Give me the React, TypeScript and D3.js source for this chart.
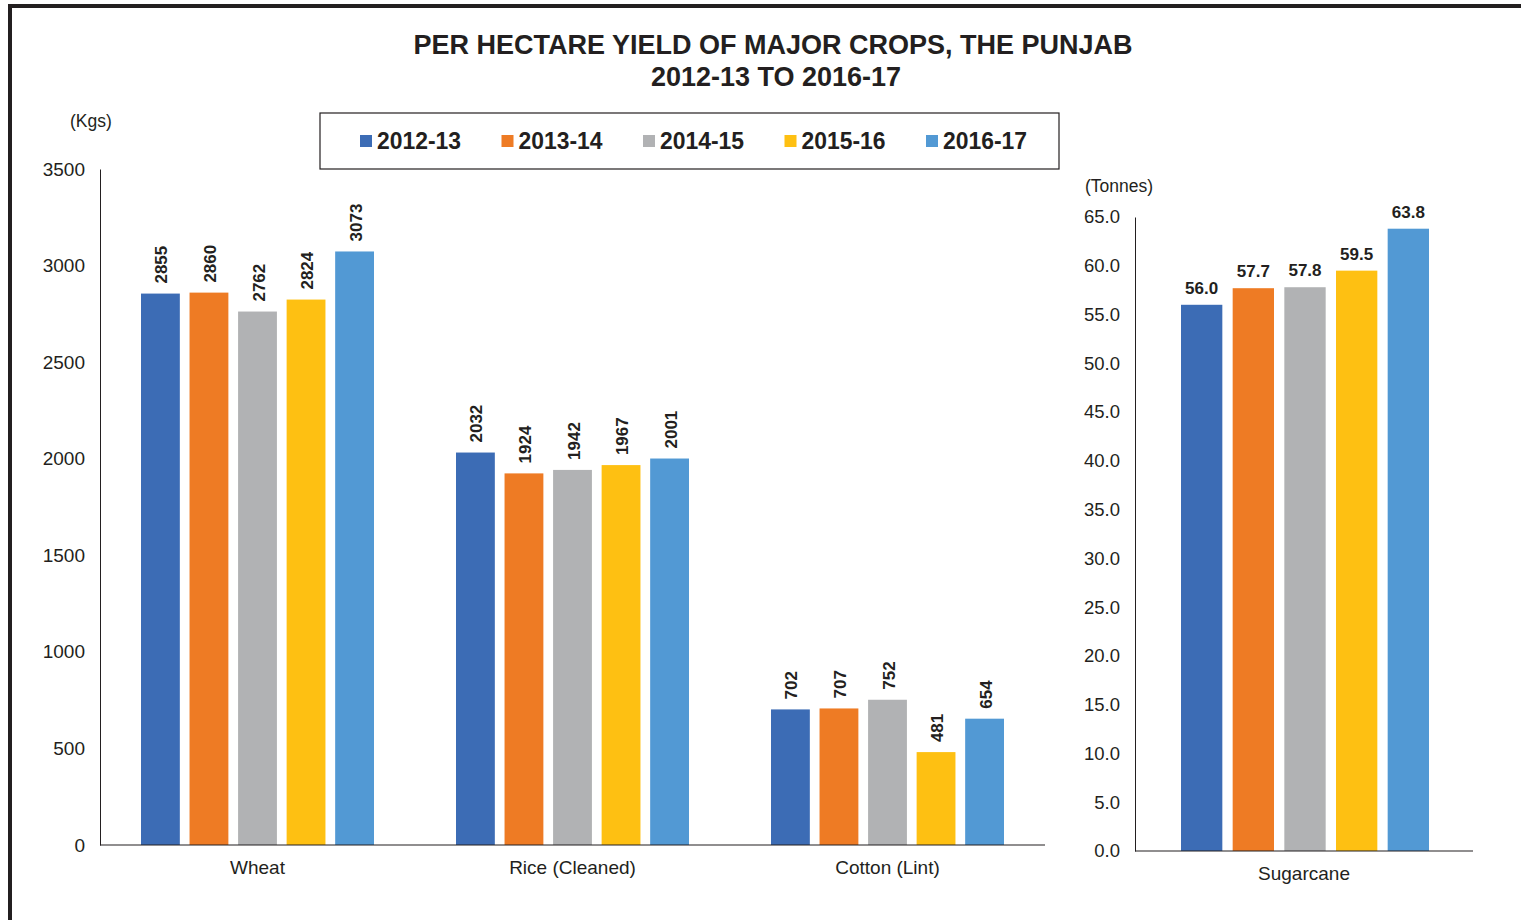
import { useEffect, useRef } from "react";
import * as d3 from "d3";

const years = ["2012-13", "2013-14", "2014-15", "2015-16", "2016-17"];
const colors = ["#3C6CB5", "#EE7B24", "#B1B2B4", "#FEC012", "#5299D4"];

const crops = ["Wheat", "Rice (Cleaned)", "Cotton (Lint)"];
const wheat = [2855, 2860, 2762, 2824, 3073];
const rice = [2032, 1924, 1942, 1967, 2001];
const cotton = [702, 707, 752, 481, 654];
const kgTicks = [0, 500, 1000, 1500, 2000, 2500, 3000, 3500];

const sugarCrops = ["Sugarcane"];
const sugarcane = [56.0, 57.7, 57.8, 59.5, 63.8];
const tonneTicks = [0, 5, 10, 15, 20, 25, 30, 35, 40, 45, 50, 55, 60, 65];

const FONT = "'Liberation Sans', Arial, sans-serif";

export default function App() {
  const svgRef = useRef<SVGSVGElement>(null);

  useEffect(() => {
    const width = 1521;
    const height = 920;
    const svg = d3.select(svgRef.current);
    svg.selectAll("*").remove();
    svg.attr("width", width).attr("height", height).style("font-family", FONT);

    svg.append("rect").attr("width", width).attr("height", height).attr("fill", "#fff");

    // frame (right and bottom run off the page)
    svg.append("path")
      .attr("d", `M10,${height + 10} L10,6 L${width + 10},6`)
      .attr("fill", "none")
      .attr("stroke", "#231F20")
      .attr("stroke-width", 4);

    // title
    const title = svg.append("text")
      .attr("text-anchor", "middle")
      .attr("font-weight", "bold")
      .attr("font-size", 27)
      .attr("fill", "#231F20");
    title.append("tspan").attr("x", 773).attr("y", 54).text("PER HECTARE YIELD OF MAJOR CROPS, THE PUNJAB");
    title.append("tspan").attr("x", 776).attr("y", 86).text("2012-13 TO 2016-17");

    // legend
    svg.append("rect")
      .attr("x", 320).attr("y", 113).attr("width", 739).attr("height", 56)
      .attr("fill", "#fff").attr("stroke", "#231F20").attr("stroke-width", 1.2);
    const legendX = d3.scalePoint<string>().domain(years).range([360, 926]);
    const lg = svg.append("g").selectAll("g").data(years).enter().append("g")
      .attr("transform", (d) => `translate(${legendX(d)},141)`);
    lg.append("rect").attr("x", 0).attr("y", -6).attr("width", 12).attr("height", 12)
      .attr("fill", (_d, i) => colors[i]);
    lg.append("text").attr("x", 17).attr("y", 8)
      .attr("font-size", 23).attr("font-weight", "bold").attr("fill", "#231F20")
      .attr("textLength", 84).attr("lengthAdjust", "spacingAndGlyphs")
      .text((d) => d);

    // ---- left panel (Kgs)
    const left = { x0: 100, x1: 1045, y0: 845, y1: 169 };
    const xL = d3.scaleBand<string>().domain(crops).range([left.x0, left.x1]);
    const xInner = d3.scaleBand<string>().domain(years).range([41, xL.bandwidth() - 41]).paddingInner(0.2);
    const yL = d3.scaleLinear().domain([0, 3500]).range([left.y0, left.y1]);
    const kgSeries = [wheat, rice, cotton];

    const gL = svg.append("g");
    crops.forEach((c, ci) => {
      const g = gL.append("g").attr("transform", `translate(${xL(c)},0)`);
      years.forEach((yr, yi) => {
        const v = kgSeries[ci][yi];
        const bx = xInner(yr)!;
        g.append("rect")
          .attr("x", bx).attr("y", yL(v))
          .attr("width", xInner.bandwidth()).attr("height", yL(0) - yL(v))
          .attr("fill", colors[yi]);
        g.append("text")
          .attr("transform", `translate(${bx + xInner.bandwidth() / 2 + 7},${yL(v) - 10}) rotate(-90)`)
          .attr("font-size", 17).attr("font-weight", "bold").attr("fill", "#231F20")
          .text(v);
      });
      gL.append("text")
        .attr("x", xL(c)! + xL.bandwidth() / 2).attr("y", 874)
        .attr("text-anchor", "middle").attr("font-size", 19).attr("fill", "#231F20")
        .text(c);
    });

    const axL = svg.append("g").attr("transform", `translate(${left.x0},0)`)
      .call(d3.axisLeft(yL).tickValues(kgTicks).tickSize(0).tickPadding(15).tickFormat(d3.format("d")));
    axL.select(".domain").attr("stroke", "#231F20");
    axL.selectAll("text").attr("font-size", 19).attr("font-family", FONT).attr("fill", "#231F20");
    svg.append("line").attr("x1", left.x0).attr("x2", left.x1).attr("y1", left.y0).attr("y2", left.y0)
      .attr("stroke", "#231F20").attr("stroke-width", 1.2);
    svg.append("text").attr("x", 70).attr("y", 127).attr("font-size", 17.5).attr("fill", "#231F20").text("(Kgs)");

    // ---- right panel (Tonnes)
    const right = { x0: 1135, x1: 1473, y0: 851, y1: 217 };
    const xR = d3.scaleBand<string>().domain(sugarCrops).range([right.x0, right.x1]);
    const xInnerR = d3.scaleBand<string>().domain(years).range([46, xR.bandwidth() - 44]).paddingInner(0.2);
    const yR = d3.scaleLinear().domain([0, 65]).range([right.y0, right.y1]);

    const gR = svg.append("g").attr("transform", `translate(${xR("Sugarcane")},0)`);
    years.forEach((yr, yi) => {
      const v = sugarcane[yi];
      const bx = xInnerR(yr)!;
      gR.append("rect")
        .attr("x", bx).attr("y", yR(v))
        .attr("width", xInnerR.bandwidth()).attr("height", yR(0) - yR(v))
        .attr("fill", colors[yi]);
      gR.append("text")
        .attr("x", bx + xInnerR.bandwidth() / 2).attr("y", yR(v) - 11)
        .attr("text-anchor", "middle")
        .attr("font-size", 17).attr("font-weight", "bold").attr("fill", "#231F20")
        .text(v.toFixed(1));
    });
    svg.append("text")
      .attr("x", xR("Sugarcane")! + xR.bandwidth() / 2).attr("y", 880)
      .attr("text-anchor", "middle").attr("font-size", 19).attr("fill", "#231F20")
      .text("Sugarcane");

    const axR = svg.append("g").attr("transform", `translate(${right.x0},0)`)
      .call(d3.axisLeft(yR).tickValues(tonneTicks).tickSize(0).tickPadding(15).tickFormat(d3.format(".1f")));
    axR.select(".domain").attr("stroke", "#231F20");
    axR.selectAll("text").attr("font-size", 18.5).attr("font-family", FONT).attr("fill", "#231F20");
    svg.append("line").attr("x1", right.x0).attr("x2", right.x1).attr("y1", right.y0).attr("y2", right.y0)
      .attr("stroke", "#231F20").attr("stroke-width", 1.2);
    svg.append("text").attr("x", 1085).attr("y", 192).attr("font-size", 17.5).attr("fill", "#231F20").text("(Tonnes)");
  }, []);

  return (
    <div style={{ position: "absolute", left: 0, top: 0 }}>
      <svg ref={svgRef}></svg>
    </div>
  );
}
